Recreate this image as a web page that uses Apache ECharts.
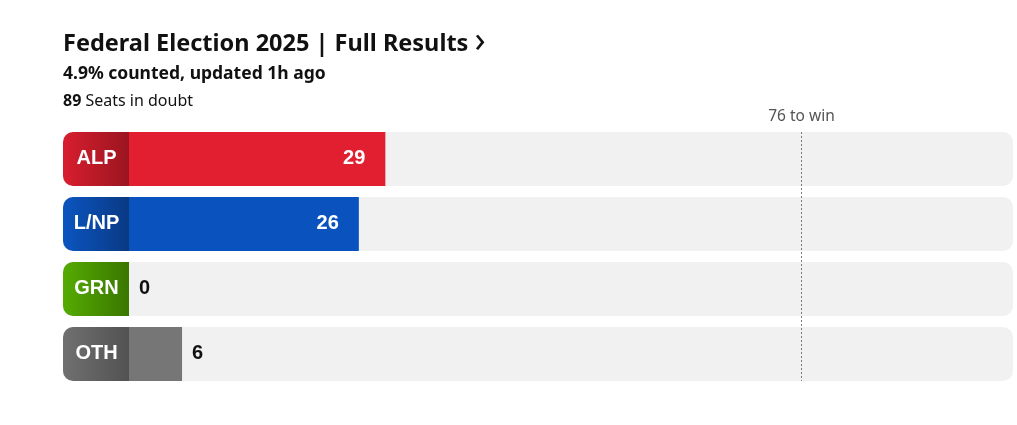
<!DOCTYPE html>
<html><head><meta charset="utf-8">
<script src="https://cdn.jsdelivr.net/npm/echarts@6/dist/echarts.min.js"></script>
<style>html,body{margin:0;padding:0;background:#fff}#c{width:1017px;height:425px}</style>
</head><body><div id="c"></div>
<script>
const parties = ['ALP', 'L/NP', 'GRN', 'OTH'];
const seats = [29, 26, 0, 6];
const barColors = ['#e11f30', '#0a52be', '#51a802', '#767676'];
const labelLight = ['#d81e2e', '#0b55c0', '#55ab02', '#707070'];
const labelDark = ['#9a1520', '#0a3984', '#3a7600', '#525252'];
const valueInside = [true, true, false, false];
const winSeats = 76;
const winText = '76 to win';
const axisMax = 100;
const titleText = 'Federal Election 2025 | Full Results';
const subText = '4.9% counted, updated 1h ago';
const doubtSeats = 89;
const doubtText = 'Seats in doubt';

const uiFont = '"Noto Sans", sans-serif';
const barFont = '"Liberation Sans", Arial, sans-serif';

function renderItem(params, api) {
  const i = api.value(1);
  const v = api.value(0);
  const c0 = api.coord([0, i]);
  const cMax = api.coord([axisMax, i]);
  const cv = api.coord([v, i]);
  const band = api.size([0, 1])[1];
  const h = Math.round(band * 54 / 65);
  const y = Math.round(c0[1] - h / 2);
  const labW = 66;
  const x0 = c0[0] - labW;
  const children = [
    { type: 'rect', shape: { x: x0, y: y, width: cMax[0] - x0, height: h, r: 10 }, style: { fill: '#f1f1f1' } }
  ];
  if (v > 0) {
    children.push({ type: 'rect', shape: { x: c0[0], y: y, width: cv[0] - c0[0], height: h }, style: { fill: barColors[i] } });
  }
  children.push({
    type: 'rect', shape: { x: x0, y: y, width: labW, height: h, r: [10, 0, 0, 10] },
    style: { fill: new echarts.graphic.LinearGradient(0, 0, 1, 0, [
      { offset: 0, color: labelLight[i] }, { offset: 1, color: labelDark[i] }]) }
  });
  children.push({
    type: 'text', x: x0 + labW / 2 + 0.5, y: c0[1] - 1,
    style: { text: parties[i], fill: '#fff', font: 'bold 20px ' + barFont, align: 'center', verticalAlign: 'middle' }
  });
  if (valueInside[i]) {
    children.push({ type: 'text', x: cv[0] - 20, y: c0[1] - 1,
      style: { text: String(v), fill: '#fff', font: 'bold 20px ' + barFont, align: 'right', verticalAlign: 'middle' } });
  } else {
    children.push({ type: 'text', x: cv[0] + 10, y: c0[1] - 1,
      style: { text: String(v), fill: '#111', font: 'bold 20px ' + barFont, align: 'left', verticalAlign: 'middle' } });
  }
  if (params.dataIndex === parties.length - 1) {
    const top = api.coord([winSeats, 0]);
    const bot = api.coord([winSeats, parties.length - 1]);
    const lx = Math.round(top[0]) + 0.5;
    children.push({ type: 'line', shape: { x1: lx, y1: top[1] - h / 2, x2: lx, y2: bot[1] + h / 2 },
      style: { stroke: '#7a7a7a', lineWidth: 1, lineDash: [2, 2] } });
    children.push({ type: 'text', x: lx, y: top[1] - h / 2 - 15,
      style: { text: winText, fill: '#555', font: '15.5px ' + uiFont, align: 'center', verticalAlign: 'middle' } });
  }
  return { type: 'group', children: children };
}

const chart = echarts.init(document.getElementById('c'));
chart.setOption({
  animation: false,
  title: [
    { text: titleText + ' {c|›}', left: 63, top: 29,
      textStyle: { fontFamily: uiFont, fontSize: 23.5, fontWeight: 'bold', color: '#111', lineHeight: 30,
        rich: { c: { fontFamily: uiFont, fontSize: 36, fontWeight: 'normal', color: '#111', lineHeight: 30, padding: [0, 0, 4, 0] } } }, padding: 0 },
    { text: subText, left: 63, top: 63,
      textStyle: { fontFamily: uiFont, fontSize: 17.5, fontWeight: 'bold', color: '#111', lineHeight: 22 }, padding: 0 },
    { text: '{b|' + doubtSeats + '} ' + doubtText, left: 63, top: 91,
      textStyle: { fontFamily: uiFont, fontSize: 16, fontWeight: 'normal', color: '#111', lineHeight: 20,
        rich: { b: { fontFamily: uiFont, fontSize: 16, fontWeight: 'bold', color: '#111' } } }, padding: 0 }
  ],
  grid: { left: 129, right: 4, top: 126.5, bottom: 38.5 },
  xAxis: { type: 'value', min: 0, max: axisMax, show: false },
  yAxis: { type: 'category', data: parties, inverse: true, show: false },
  series: [{
    type: 'custom',
    renderItem: renderItem,
    encode: { x: 0, y: 1 },
    data: seats.map((v, i) => [v, i])
  }]
});
</script></body></html>
